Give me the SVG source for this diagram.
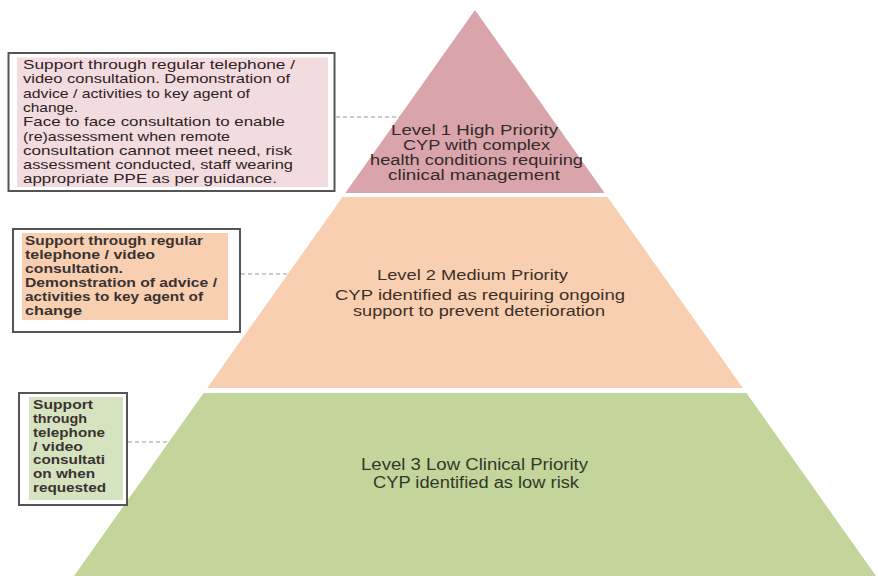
<svg xmlns="http://www.w3.org/2000/svg" width="878" height="576" viewBox="0 0 878 576">
<style>
text{font-family:"Liberation Sans",Arial,sans-serif}
.t{fill:#3a3232;font-size:13px;font-weight:bold}
.n1{fill:#2e2324;font-size:13px}
.lvl{font-size:14px}
.box{fill:#ffffff;stroke:#555;stroke-width:2}
.conn{stroke:#9a9a9a;stroke-width:1.2;stroke-dasharray:4 3;fill:none}
</style>
<rect width="878" height="576" fill="#ffffff"/>
<g id="level1">
<polygon points="475,10 604.7,193 345.3,193" fill="#d9a4aa"/>
<g class="lvl" fill="#332a2b">
<text x="391" y="135" textLength="167" lengthAdjust="spacingAndGlyphs">Level 1 High Priority</text>
<text x="403" y="150" textLength="147" lengthAdjust="spacingAndGlyphs">CYP with complex</text>
<text x="370" y="165" textLength="213" lengthAdjust="spacingAndGlyphs">health conditions requiring</text>
<text x="388" y="179.5" textLength="172" lengthAdjust="spacingAndGlyphs">clinical management</text>
</g>
</g>
<g id="level2">
<polygon points="342.5,197 607.5,197 742.8,388 207.2,388" fill="#f8cfb0"/>
<g font-size="14" fill="#3d3028">
<text x="377" y="280" font-size="15" textLength="191" lengthAdjust="spacingAndGlyphs">Level 2 Medium Priority</text>
<text x="335" y="300" textLength="290" lengthAdjust="spacingAndGlyphs">CYP identified as requiring ongoing</text>
<text x="353" y="315.5" textLength="252" lengthAdjust="spacingAndGlyphs">support to prevent deterioration</text>
</g>
</g>
<g id="level3">
<polygon points="203.6,393 746.4,393 876,576 74,576" fill="#c3d59b"/>
<g font-size="16" fill="#303a26">
<text x="361" y="469.5" textLength="227" lengthAdjust="spacingAndGlyphs">Level 3 Low Clinical Priority</text>
<text x="373" y="488" textLength="206" lengthAdjust="spacingAndGlyphs">CYP identified as low risk</text>
</g>
</g>
<g id="connectors">
<line class="conn" x1="336" y1="117" x2="400" y2="117"/>
<line class="conn" x1="241" y1="274" x2="290" y2="274"/>
<line class="conn" x1="128" y1="442" x2="170" y2="442"/>
</g>
<g id="note1">
<rect class="box" x="8.5" y="53" width="326" height="138"/>
<rect x="17" y="57.5" width="311" height="129.5" fill="#f3dcdf"/>
<g class="n1">
<text x="23" y="69" textLength="272" lengthAdjust="spacingAndGlyphs">Support through regular telephone /</text>
<text x="23" y="83.3" textLength="267" lengthAdjust="spacingAndGlyphs">video consultation. Demonstration of</text>
<text x="23" y="97.6" textLength="227" lengthAdjust="spacingAndGlyphs">advice / activities to key  agent of</text>
<text x="23" y="111.9" textLength="55" lengthAdjust="spacingAndGlyphs">change.</text>
<text x="23" y="126.2" textLength="262" lengthAdjust="spacingAndGlyphs">Face to face consultation to enable</text>
<text x="23" y="140.5" textLength="207" lengthAdjust="spacingAndGlyphs">(re)assessment when remote</text>
<text x="23" y="154.8" textLength="269" lengthAdjust="spacingAndGlyphs">consultation  cannot meet need, risk</text>
<text x="23" y="169.1" textLength="270" lengthAdjust="spacingAndGlyphs">assessment conducted, staff wearing</text>
<text x="23" y="183.4" textLength="254" lengthAdjust="spacingAndGlyphs">appropriate PPE as per guidance.</text>
</g>
</g>
<g id="note2">
<rect class="box" x="13" y="229" width="227" height="103"/>
<rect x="22" y="233" width="206" height="87" fill="#f8cfb0"/>
<g class="t" fill="#3f2f25">
<text x="25" y="245" textLength="178" lengthAdjust="spacingAndGlyphs">Support through regular</text>
<text x="25" y="259" textLength="130" lengthAdjust="spacingAndGlyphs">telephone / video</text>
<text x="25" y="273" textLength="98" lengthAdjust="spacingAndGlyphs">consultation.</text>
<text x="25" y="287" textLength="192" lengthAdjust="spacingAndGlyphs">Demonstration of advice /</text>
<text x="25" y="301" textLength="178" lengthAdjust="spacingAndGlyphs">activities to key agent of</text>
<text x="25" y="315" textLength="57" lengthAdjust="spacingAndGlyphs">change</text>
</g>
</g>
<g id="note3">
<rect class="box" x="19" y="393" width="108" height="112"/>
<rect x="29" y="397" width="94" height="103" fill="#d5e3bf"/>
<g class="t">
<text x="33" y="409" textLength="60" lengthAdjust="spacingAndGlyphs">Support</text>
<text x="33" y="423" textLength="54" lengthAdjust="spacingAndGlyphs">through</text>
<text x="33" y="436.8" textLength="72" lengthAdjust="spacingAndGlyphs">telephone</text>
<text x="33" y="450.6" textLength="50" lengthAdjust="spacingAndGlyphs">/ video</text>
<text x="33" y="464.4" textLength="72" lengthAdjust="spacingAndGlyphs">consultati</text>
<text x="33" y="478.2" textLength="62" lengthAdjust="spacingAndGlyphs">on when</text>
<text x="33" y="492" textLength="73" lengthAdjust="spacingAndGlyphs">requested</text>
</g>
</g>
</svg>
